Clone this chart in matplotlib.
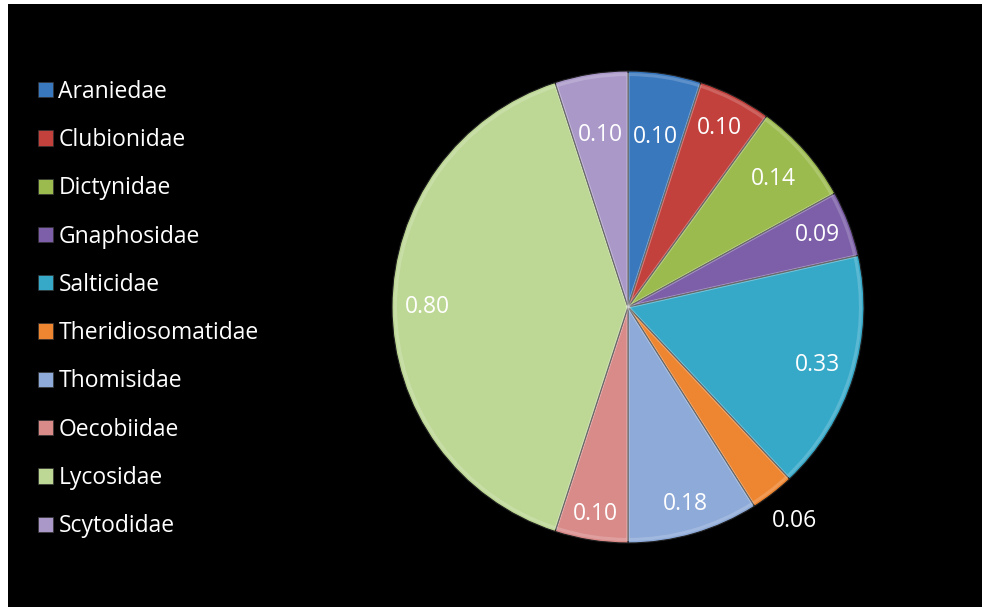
import matplotlib
matplotlib.use("Agg")
import matplotlib.pyplot as plt
from matplotlib.patches import Patch
import numpy as np

families = ["Araniedae", "Clubionidae", "Dictynidae", "Gnaphosidae", "Salticidae",
            "Theridiosomatidae", "Thomisidae", "Oecobiidae", "Lycosidae", "Scytodidae"]
values = [0.10, 0.10, 0.14, 0.09, 0.33, 0.06, 0.18, 0.10, 0.80, 0.10]
colors = ["#3A78BE", "#C2413D", "#9CBB4E", "#7C5FA8", "#36A9C9",
          "#EE8530", "#8EAAD8", "#D98B8A", "#BDD794", "#AA98C9"]
label_radius = [0.73, 0.85, 0.82, 0.86, 0.84, 1.15, 0.87, 0.89, 0.85, 0.74]

W, H = 982, 607
fig = plt.figure(figsize=(W / 100, H / 100), dpi=100, facecolor="white")
bg = fig.add_axes([8 / W, 0, 1 - 8 / W, 1 - 4 / H], zorder=-5)
bg.set_facecolor("black")
bg.set_xticks([]); bg.set_yticks([])
for s in bg.spines.values():
    s.set_visible(False)

cx, cy, R = 628, 307, 236
ax = fig.add_axes([(cx - R) / W, (H - cy - R) / H, 2 * R / W, 2 * R / H], zorder=1)
ax.set_facecolor("none")
wedges, _ = ax.pie(values, colors=colors, startangle=90, counterclock=False, radius=1,
                   wedgeprops=dict(edgecolor="#1E1E1E", linewidth=0.8))
# soft bevel highlight inside each slice
ax.pie(values, colors=["none"] * len(values), startangle=90, counterclock=False, radius=0.985,
       wedgeprops=dict(edgecolor=(1, 1, 1, 0.18), linewidth=2.2, facecolor="none"))
ax.set_xlim(-1, 1)
ax.set_ylim(-1, 1)
ax.set_aspect("equal")
ax.axis("off")

for w, v, r in zip(wedges, values, label_radius):
    ang = np.deg2rad((w.theta1 + w.theta2) / 2)
    ax.text(r * np.cos(ang), r * np.sin(ang), f"{v:.2f}", ha="center", va="center",
            color="white", fontsize=16.5, family=["Open Sans", "DejaVu Sans"])

handles = [Patch(facecolor=c, edgecolor="#333333", linewidth=0.5) for c in colors]
leg = fig.legend(handles, families, loc="upper left", bbox_to_anchor=(17 / W, 1 - 59 / H),
                 frameon=False, labelspacing=1.06, handlelength=0.65, handleheight=0.65,
                 handletextpad=0.26, prop=dict(family=["Open Sans", "DejaVu Sans"], size=16.5))
for t in leg.get_texts():
    t.set_color("white")

fig.savefig("out.png", dpi=100, facecolor="white")
